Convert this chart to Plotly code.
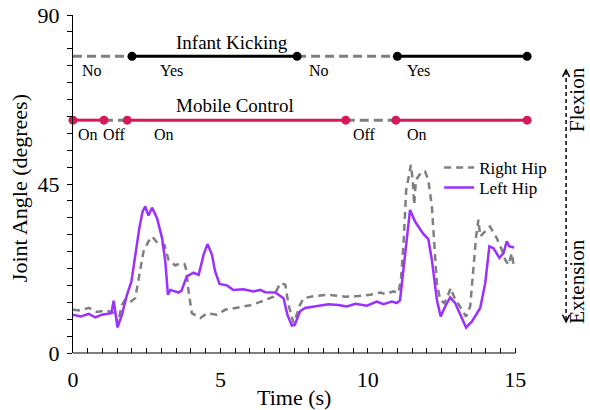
import plotly.graph_objects as go

# ---------------- data ----------------
t_left = [0.0, 0.25, 0.53, 0.76, 0.98, 1.21, 1.3, 1.38, 1.43, 1.51, 1.66, 1.83, 1.98, 2.11, 2.25,
          2.36, 2.45, 2.56, 2.68, 2.85, 3.02, 3.13, 3.22, 3.30, 3.45, 3.58, 3.68, 3.86, 4.09, 4.26,
          4.43, 4.56, 4.71, 4.82, 4.97, 5.22, 5.44, 5.78, 6.12, 6.35, 6.52, 6.86, 7.14, 7.27, 7.42,
          7.52, 7.62, 7.70, 7.87, 8.21, 8.66, 9.0, 9.29, 9.58, 9.97, 10.3, 10.53, 10.81, 10.98, 11.09,
          11.2, 11.3, 11.43, 11.6, 11.77, 11.88, 12.05, 12.17, 12.34, 12.47, 12.62, 12.79, 12.96,
          13.13, 13.33, 13.53, 13.81, 13.98, 14.12, 14.26, 14.46, 14.6, 14.71, 14.8, 14.96]
left_hip = [10.2, 9.7, 10.4, 9.5, 10.2, 10.4, 10.6, 13.9, 11.0, 6.8, 10.2, 15.5, 19.0, 26.2, 33.3,
            37.7, 39.0, 36.6, 38.7, 35.9, 30.6, 24.4, 15.5, 16.8, 16.5, 16.1, 16.6, 20.4, 21.4, 20.8,
            26.2, 29.0, 26.2, 21.7, 18.4, 18.0, 16.8, 17.0, 16.4, 16.8, 16.2, 16.1, 14.6, 10.2, 7.3,
            7.5, 9.5, 11.1, 12.0, 12.4, 13.0, 12.8, 12.4, 13.1, 12.6, 13.7, 13.0, 13.7, 13.3, 14.0,
            22.0, 30.0, 38.1, 35.0, 32.8, 31.7, 30.3, 24.8, 14.2, 9.7, 12.4, 14.8, 13.3,
            10.2, 6.8, 8.4, 12.0, 18.6, 28.4, 27.9, 25.3, 26.6, 29.7, 28.4, 28.1]

t_right = [0.0, 0.25, 0.53, 0.81, 1.09, 1.32, 1.42, 1.52, 1.66, 1.77, 1.94, 2.11, 2.25, 2.39, 2.56,
           2.68, 2.9, 3.1, 3.24, 3.47, 3.64, 3.78, 3.84, 3.92, 4.03, 4.32, 4.54, 4.88, 5.16, 5.56,
           6.01, 6.35, 6.8, 7.03, 7.2, 7.31, 7.48, 7.6, 7.68, 7.82, 8.21, 8.66, 9.23, 9.68, 10.08,
           10.42, 10.59, 10.87, 11.04, 11.13, 11.21, 11.3, 11.38, 11.46, 11.52, 11.57, 11.63, 11.72,
           11.83, 11.94, 12.05, 12.17, 12.25, 12.34, 12.45, 12.59, 12.7, 12.81, 12.92, 13.13, 13.33,
           13.47, 13.58, 13.67, 13.75, 13.81, 13.92, 14.14, 14.37, 14.54, 14.66, 14.77, 14.88, 14.96]
right_hip = [11.5, 11.3, 12.0, 10.9, 11.3, 10.9, 10.5, 8.0, 12.8, 14.2, 13.6, 14.6, 20.8, 27.0, 29.7,
             31.0, 29.0, 28.8, 24.8, 23.3, 23.9, 23.7, 22.2, 16.4, 10.6, 9.3, 10.6, 10.2, 11.5, 12.1,
             12.7, 13.6, 15.0, 18.6, 18.2, 12.8, 8.0, 10.5, 12.5, 14.6, 15.2, 15.5, 15.0, 15.2, 15.5,
             16.1, 15.7, 16.4, 16.0, 20.4, 29.3, 43.4, 47.0, 50.1, 46.1, 39.5, 46.1, 47.0,
             48.3, 48.3, 46.1, 39.0, 29.3, 18.6, 14.2, 13.3, 15.0, 17.3, 15.0, 12.4, 9.7,
             12.4, 22.2, 31.0, 35.5, 31.0, 31.9, 33.7, 30.6, 27.5, 24.8, 23.5, 26.6, 22.6]

# status timelines (segment boundaries in seconds, state of each segment)
kick_bounds = [0.0, 2.0, 7.6, 11.0, 15.4]
kick_states = ["No", "Yes", "No", "Yes"]
mobile_bounds = [0.0, 1.05, 1.84, 9.25, 10.95, 15.4]
mobile_states = ["On", "Off", "On", "Off", "On"]

x_ticks = [0, 5, 10, 15]
y_ticks = [0, 45, 90]

# ---------------- styling ----------------
FONT = "Liberation Serif"
PURPLE = "#9B30FF"
GRAY = "#7f7f7f"
RED = "#D6195B"
KICK_Y = 79
MOBILE_Y = 62

W, H = 590, 410
# plot area in screen pixels (page body margin removed below)
SX0, SX1, SY0, SY1 = 72.7, 532.9, 15.0, 353.3
L, T = SX0, SY0
R, B = W - SX1, H - SY1
PW, PH = SX1 - SX0, SY1 - SY0


def px_x(p):
    return (p - SX0) / PW


def px_y(p):
    return (SY1 - p) / PH


fig = go.Figure()


def add_timeline(bounds, states, active, level, active_color):
    segs = list(zip(bounds[:-1], bounds[1:], states))
    for a, b, s in segs:
        if s != active:
            fig.add_trace(go.Scatter(x=[a, b], y=[level, level], mode="lines",
                                     line=dict(color=GRAY, width=3, dash="9px,5px"),
                                     showlegend=False, hoverinfo="skip"))
    for a, b, s in segs:
        if s == active:
            fig.add_trace(go.Scatter(x=[a, b], y=[level, level], mode="lines+markers",
                                     line=dict(color=active_color, width=3),
                                     marker=dict(color=active_color, size=9),
                                     cliponaxis=False, showlegend=False, hoverinfo="skip"))


add_timeline(kick_bounds, kick_states, "Yes", KICK_Y, "black")
add_timeline(mobile_bounds, mobile_states, "On", MOBILE_Y, RED)

fig.add_trace(go.Scatter(x=t_right, y=right_hip, mode="lines", name="Right Hip",
                         line=dict(color=GRAY, width=2.5, dash="7px,5px"), legend="legend"))
fig.add_trace(go.Scatter(x=t_left, y=left_hip, mode="lines", name="Left Hip",
                         line=dict(color=PURPLE, width=2.5), legend="legend2"))


def a(**kw):
    d = dict(showarrow=False, xanchor="center", yanchor="middle")
    d.update(kw)
    return d


ann = []
ann.append(a(x=5.4, y=82.6, text="Infant Kicking", font=dict(size=19)))
ann.append(a(x=5.5, y=66.0, text="Mobile Control", font=dict(size=19)))
for xv, txt in zip([0.65, 3.33, 8.35, 11.72], kick_states):
    ann.append(a(x=xv, y=75.2, text=txt, font=dict(size=16)))
for xv, txt in zip([0.5, 1.42, 3.1, 9.9, 11.65], mobile_states):
    ann.append(a(x=xv, y=58.2, text=txt, font=dict(size=16)))
ann.append(a(xref="paper", yref="paper", x=px_x(294), y=px_y(398), text="Time (s)",
             font=dict(size=22)))
ann.append(a(xref="paper", yref="paper", x=px_x(20), y=px_y(188), text="Joint Angle (degrees)",
             textangle=-90, font=dict(size=22)))
ann.append(a(xref="paper", yref="paper", x=px_x(577), y=px_y(100), text="Flexion",
             textangle=-90, font=dict(size=21)))
ann.append(a(xref="paper", yref="paper", x=px_x(577), y=px_y(282), text="Extension",
             textangle=-90, font=dict(size=21)))

ax_x = px_x(566)
shapes = [
    dict(type="line", xref="x", yref="paper", x0=0, x1=15, y0=0, y1=0,
         line=dict(color="black", width=1.2)),
    dict(type="line", xref="paper", yref="paper", x0=ax_x, x1=ax_x, y0=px_y(71), y1=px_y(321),
         line=dict(color="black", width=1.5, dash="4px,3px")),
    dict(type="path", xref="paper", yref="paper",
         path=f"M {px_x(562.5)},{px_y(77)} L {ax_x},{px_y(70)} L {px_x(569.5)},{px_y(77)}",
         line=dict(color="black", width=1.5)),
    dict(type="path", xref="paper", yref="paper",
         path=f"M {px_x(562.5)},{px_y(315)} L {ax_x},{px_y(322)} L {px_x(569.5)},{px_y(315)}",
         line=dict(color="black", width=1.5)),
]

x_minor = [i * 0.5 for i in range(31) if (i * 0.5) not in x_ticks]
y_minor = [i * 4.5 for i in range(21) if (i * 4.5) not in y_ticks]

leg_common = dict(xanchor="left", yanchor="top", bgcolor="rgba(0,0,0,0)",
                  font=dict(size=17), borderwidth=0)

fig.update_layout(
    width=W, height=H,
    margin=dict(l=L, r=R, t=T, b=B, autoexpand=False),
    paper_bgcolor="white", plot_bgcolor="white",
    font=dict(family=FONT, size=18, color="black"),
    annotations=ann, shapes=shapes,
    legend=dict(x=px_x(439), y=px_y(150), **leg_common),
    legend2=dict(x=px_x(439), y=px_y(170), **leg_common),
    xaxis=dict(range=[0, 15.6], showline=False, showgrid=False, zeroline=False,
               tickvals=x_ticks, ticktext=[str(v) for v in x_ticks],
               ticks="inside", ticklen=5, tickcolor="black", tickwidth=1,
               tickfont=dict(size=22), ticklabelstandoff=11,
               minor=dict(tickvals=x_minor, ticks="inside", ticklen=5, tickcolor="black",
                          tickwidth=1, showgrid=False)),
    yaxis=dict(range=[0, 90], showline=True, linecolor="black", linewidth=1.2,
               showgrid=False, zeroline=False,
               tickvals=y_ticks, ticktext=[str(v) for v in y_ticks],
               ticks="outside", ticklen=5, tickcolor="black", tickwidth=1,
               tickfont=dict(size=22), ticklabelstandoff=3, ticklabeloverflow="allow",
               minor=dict(tickvals=y_minor, ticks="outside", ticklen=5, tickcolor="black",
                          tickwidth=1, showgrid=False)),
)

fig.write_html("out.html", config={"displayModeBar": False},
               post_script="document.body.style.margin='0';")
